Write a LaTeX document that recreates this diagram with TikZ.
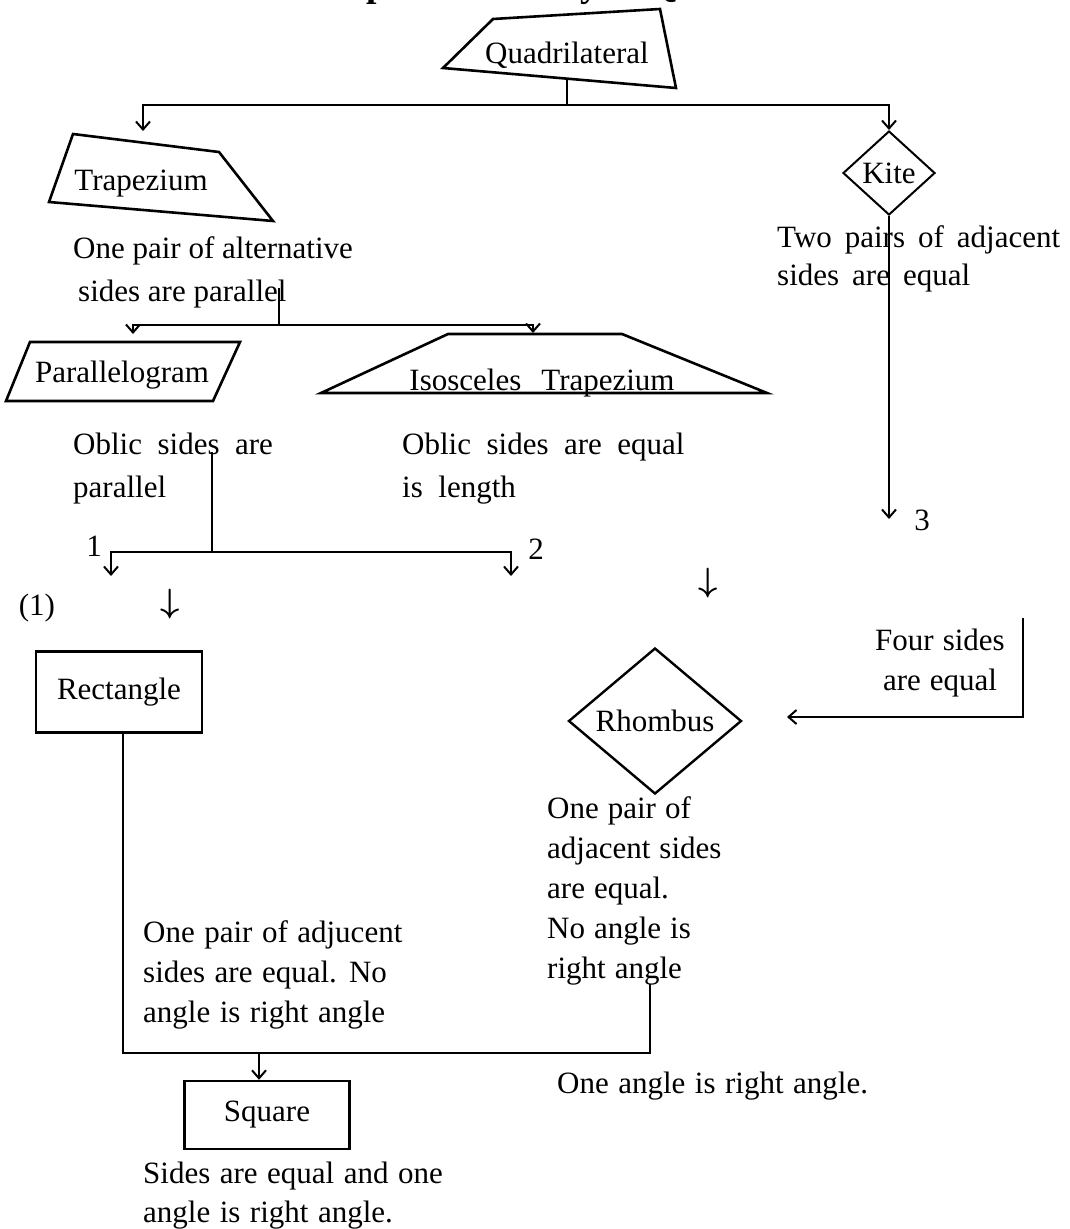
\documentclass[tikz,border=0pt]{standalone}
\usepackage{fontspec}
\setmainfont{Liberation Serif}
\usepackage{graphicx}
\usepackage{tikz}
\usetikzlibrary{arrows.meta,shapes.geometric}

\tikzset{
  conn/.style={line width=2pt},
  shp/.style={line width=2.6pt},
  txt/.style={inner sep=0pt,anchor=base west,align=left},
  gap/.style={execute at begin node={\spaceskip=#1\relax}},
  lead/.style={font=\fontsize{31}{#1}\selectfont},
  darr/.style={inner sep=0pt},
}
\newcommand{\dnarrow}{\scalebox{1.35}{\boldmath$\downarrow$}}

\begin{document}
\begin{tikzpicture}[x=1pt,y=-1pt,font=\fontsize{31}{40}\selectfont,
  >={Straight Barb[length=8pt,width=14pt]}]
\useasboundingbox (0,0) rectangle (1070,1229);

% heading, cut by the top edge
\node[inner sep=0pt,anchor=base west,font=\fontsize{37.5}{40}\selectfont\bfseries] (title) at (185,-4) {Relationship of the family of Quadrilaterals};

% shapes
\node[inner sep=0pt,anchor=base] (quad) at (567,63) {Quadrilateral};
\draw[shp] (443,68) -- (493,19) -- (660,9) -- (676,88) -- cycle;

\node[inner sep=0pt,anchor=base] (trap) at (141,190) {Trapezium};
\draw[shp] (73,134) -- (219,152) -- (273,221) -- (49,202) -- cycle;

\node[draw,diamond,line width=2pt,inner sep=0pt,minimum width=92pt,minimum height=84pt] (kite) at (889,173) {Kite};

\node[inner sep=0pt,anchor=base] (para) at (122,382) {Parallelogram};
\draw[shp] (30,342) -- (240,342) -- (213,401) -- (6,401) -- cycle;

\node[inner sep=0pt,anchor=base,gap=20pt] (iso) at (542,390) {Isosceles Trapezium};
\draw[shp] (448,334) -- (622,334) -- (767,393) -- (321,393) -- cycle;

\node[draw,rectangle,line width=2.4pt,minimum width=166pt,minimum height=81pt] (rect) at (119,692) {Rectangle};
\node[draw,diamond,line width=2.4pt,inner sep=0pt,minimum width=173pt,minimum height=146pt] (rhom) at (655,721) {Rhombus};
\node[draw,rectangle,line width=2.4pt,minimum width=165pt,minimum height=68pt] (sq) at (267,1115) {Square};

% texts (anchored at the last line)
\node[txt,lead=43] (tdtext) at (73,301) {One pair of alternative\\\hspace{5pt}sides are parallel};
\node[txt,lead=38,gap=13pt] (kdtext) at (777,285) {Two pairs of adjacent\\sides are equal};
\node[txt,lead=43,gap=15.5pt] (pdtext) at (73,497) {Oblic sides are\\parallel};
\node[txt,lead=43,gap=15.5pt] (idtext) at (402,497) {Oblic sides are equal\\is length};
\node[inner sep=0pt,anchor=base] (n1) at (94,556) {1};
\node[inner sep=0pt,anchor=base] (n2) at (536,559) {2};
\node[inner sep=0pt,anchor=base] (n3) at (922,530) {3};
\node[inner sep=0pt,anchor=base] (p1) at (37,615) {(1)};
\node[darr] (arr1) at (170,604) {\dnarrow};
\node[darr] (arr2) at (708,583) {\dnarrow};
\node[inner sep=0pt,anchor=base,align=center,gap=9pt] (fstext) at (940,690) {Four sides\\are equal};
\node[txt,gap=9pt] (rhtext) at (547,978) {One pair of\\adjacent sides\\are equal.\\No angle is\\right angle};
\node[txt,gap=9.5pt] (retext) at (143,1022) {One pair of adjucent\\sides are equal. No\\angle is right angle};
\node[txt,gap=9.5pt] (ratext) at (557,1093) {One angle is right angle.};
\node[txt,lead=39,gap=9.5pt] (sqtext) at (143,1222) {Sides are equal and one\\angle is right angle.};

% connection points
\coordinate (qbot) at (567,79);
\coordinate (trapin) at (143,131);
\coordinate (tdesc) at (279,288);
\coordinate (parin) at (133,334);
\coordinate (isoin) at (533,333);
\coordinate (pdesc) at (212,452);
\coordinate (out1) at (111,576);
\coordinate (out2) at (511,576);
\coordinate (out3) at (889,519);
\coordinate (fsd) at (1023,618);
\coordinate (rhin) at (787,717);
\coordinate (rhdesc) at (650,984);
\coordinate (sqjoin) at (259,1053);

% connectors
\draw[conn,->] (qbot) -- ++(0,26) -| (trapin);
\draw[conn,->] (qbot) -- ++(0,26) -| (kite.north);
\draw[conn,->] (tdesc) -- ++(0,37) -| (parin);
\draw[conn,->] (tdesc) -- ++(0,37) -| (isoin);
\draw[conn,->] (pdesc) -- ++(0,100) -| (out1);
\draw[conn,->] (pdesc) -- ++(0,100) -| (out2);
\draw[conn,->] (kite.south) -- (out3);
\draw[conn,->] (fsd) |- (rhin);
\draw[conn] ([xshift=4pt]rect.south) |- (sqjoin -| rhdesc) -- (rhdesc);
\draw[conn,->] (sqjoin) -- (sqjoin |- sq.north);

\end{tikzpicture}
\end{document}
